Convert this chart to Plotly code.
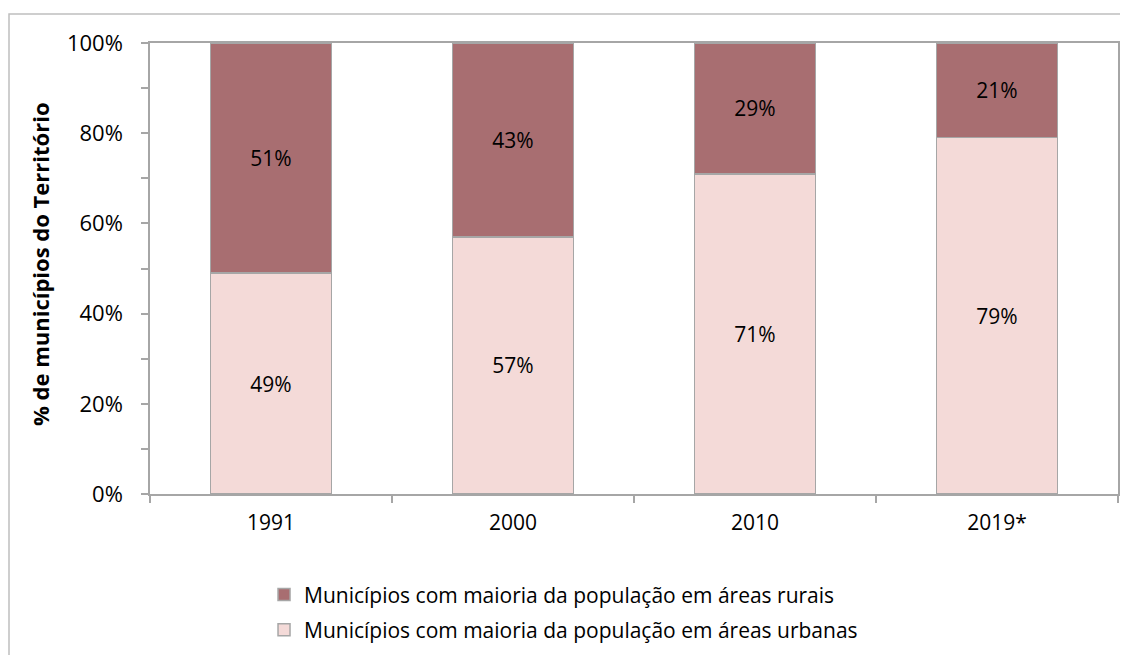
import plotly.graph_objects as go

categories = ["1991", "2000", "2010", "2019*"]
urban = [49, 57, 71, 79]
rural = [51, 43, 29, 21]
tick_vals = [0, 20, 40, 60, 80, 100]
tick_text = ["0%", "20%", "40%", "60%", "80%", "100%"]
name_rural = "Municípios com maioria da população em áreas rurais"
name_urban = "Municípios com maioria da população em áreas urbanas"

FONT = "Open Sans"
EDGE = "#A6A6A6"
W, H = 1120, 647
L, T, PW, PH = 142, 35, 968, 451

fig = go.Figure()
fig.add_trace(go.Bar(
    x=categories, y=urban, name=name_urban, legendgroup="u", legendrank=2,
    marker=dict(color="#F4DAD8", line=dict(color=EDGE, width=1.5)),
    text=[f"{v}%" for v in urban], textposition="inside", insidetextanchor="middle",
    textfont=dict(family=FONT, size=21, color="#000000"),
))
fig.add_trace(go.Bar(
    x=categories, y=rural, name=name_rural, legendgroup="r", legendrank=1,
    marker=dict(color="#A86E71", line=dict(color=EDGE, width=1.5)),
    text=[f"{v}%" for v in rural], textposition="inside", insidetextanchor="middle",
    textfont=dict(family=FONT, size=21, color="#000000"),
))

fig.update_layout(
    width=W, height=H,
    barmode="stack", bargap=0.5,
    paper_bgcolor="white", plot_bgcolor="white",
    margin=dict(l=L, r=W - L - PW, t=T, b=H - T - PH, autoexpand=False),
    font=dict(family=FONT, size=21, color="#000000"),
    legend=dict(
        orientation="v", traceorder="grouped", tracegroupgap=5,
        x=0.1178, xanchor="left", y=-0.178, yanchor="top",
        font=dict(family=FONT, size=21, color="#000000"),
        bgcolor="rgba(0,0,0,0)",
    ),
    xaxis=dict(
        showline=True, linecolor=EDGE, linewidth=1.5, mirror=True,
        ticks="outside", tickson="boundaries", ticklen=7, tickcolor=EDGE, tickwidth=1.5,
        ticklabelstandoff=9,
        tickfont=dict(family=FONT, size=21), showgrid=False,
    ),
    yaxis=dict(
        range=[0, 100], showline=True, linecolor=EDGE, linewidth=1.5, mirror=True,
        tickvals=tick_vals, ticktext=tick_text,
        ticks="outside", ticklen=7, tickcolor=EDGE, tickwidth=1.5,
        ticklabelstandoff=14,
        minor=dict(dtick=10, ticks="outside", ticklen=7, tickcolor=EDGE, tickwidth=1.5, showgrid=False),
        tickfont=dict(family=FONT, size=22), showgrid=False, zeroline=False,
    ),
    annotations=[dict(
        text="<b>% de municípios do Território</b>", textangle=-90,
        xref="paper", yref="paper", x=(32 - L) / PW, y=0.51,
        xanchor="center", yanchor="middle", showarrow=False,
        font=dict(family=FONT, size=22, color="#000000"),
    )],
    shapes=[dict(
        type="rect", xref="paper", yref="paper",
        x0=(1 - L) / PW, x1=1.2, y0=-0.6, y1=1 + (T - 6) / PH,
        line=dict(color="#BFBFBF", width=1.5), fillcolor="rgba(0,0,0,0)", layer="below",
    )],
)

fig.write_html("out.html")
